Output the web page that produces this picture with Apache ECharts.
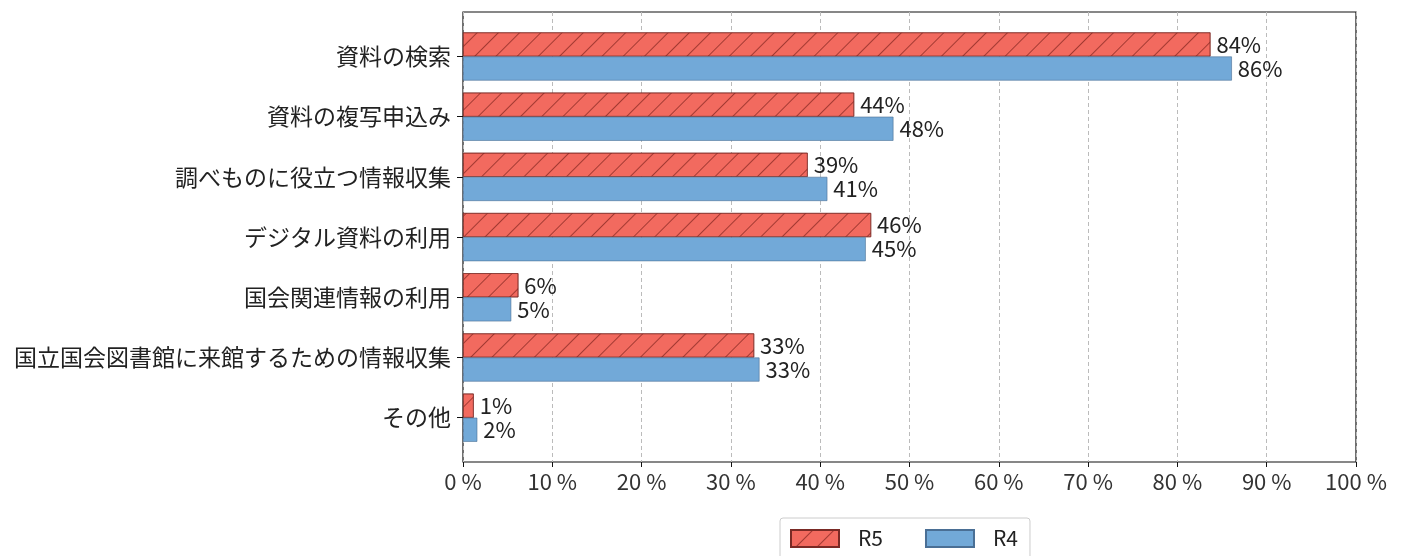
<!DOCTYPE html>
<html><head><meta charset="utf-8">
<script src="https://cdn.jsdelivr.net/npm/echarts@6/dist/echarts.min.js"></script>
<style>html,body{margin:0;padding:0;background:#fff}#c{width:1410px;height:556px}</style>
</head><body><div id="c"></div>
<script>
const categories = ['資料の検索','資料の複写申込み','調べものに役立つ情報収集','デジタル資料の利用','国会関連情報の利用','国立国会図書館に来館するための情報収集','その他'];
const r5 = [83.7, 43.8, 38.6, 45.7, 6.2, 32.6, 1.2];
const r4 = [86.1, 48.2, 40.8, 45.1, 5.4, 33.2, 1.6];
const seriesNames = ['R5','R4'];

const font = '"Noto Sans CJK JP","Noto Sans",sans-serif';
const chart = echarts.init(document.getElementById('c'));
const lbl = {show:true, position:'right', distance:6, fontSize:22, color:'#222', fontFamily:font,
  formatter: p => Math.round(p.value) + '%'};
chart.setOption({
  animation:false,
  grid:[
    {left:463, right:54, top:12, bottom:94, show:true, borderColor:'#111', borderWidth:1.2, backgroundColor:'transparent'},
    {left:463, right:54, top:26.4, height:421.4}
  ],
  xAxis:[
    {gridIndex:0, type:'value', min:0, max:100, interval:10,
     axisLine:{show:false}, axisTick:{show:true, length:5, lineStyle:{color:'#111'}},
     axisLabel:{fontSize:22, color:'#333', fontFamily:font, margin:9, formatter: v => v + ' %'},
     splitLine:{show:true, lineStyle:{color:'#bbb', type:[4,3], width:1}}},
    {gridIndex:1, type:'value', min:0, max:100, show:false}
  ],
  yAxis:[
    {gridIndex:0, type:'value', min:0, max:1, show:false},
    {gridIndex:1, type:'category', data:categories, inverse:true,
     axisLine:{show:false}, axisTick:{show:true, length:6, alignWithLabel:true, lineStyle:{color:'#111'}},
     axisLabel:{fontSize:23, color:'#222', fontFamily:font, margin:12}}
  ],
  legend:{top:518, left:780, data:seriesNames, icon:'rect', itemWidth:48, itemHeight:17, itemGap:42,
    padding:[10,12,10,10], borderColor:'#ccc', borderWidth:1, borderRadius:3,
    textStyle:{fontSize:21, color:'#222', fontFamily:font, padding:[0,0,0,14]}},
  series:[
    {name:seriesNames[0], type:'bar', xAxisIndex:1, yAxisIndex:1, data:r5, barGap:'0%', barCategoryGap:'20%',
     itemStyle:{color:'#F26A5F', borderColor:'#7a2a25', borderWidth:0.6,
       decal:{symbol:'rect', color:'rgba(110,25,20,0.6)', dashArrayX:[1,0], dashArrayY:[1,14], rotation:-Math.PI/4}},
     label:lbl},
    {name:seriesNames[1], type:'bar', xAxisIndex:1, yAxisIndex:1, data:r4, barGap:'0%', barCategoryGap:'20%',
     itemStyle:{color:'#72A9D8', borderColor:'#4a6f95', borderWidth:0.6},
     label:lbl}
  ]
});
</script></body></html>
